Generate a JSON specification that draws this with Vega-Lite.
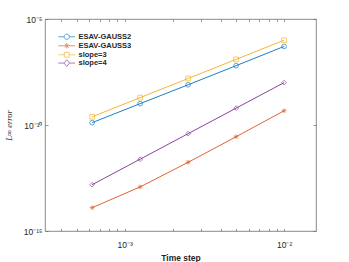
{
  "$schema": "https://vega.github.io/schema/vega-lite/v6.json",
  "width": 271,
  "height": 212,
  "autosize": {"type": "none"},
  "padding": {"left": 45, "top": 19, "right": 33, "bottom": 31},
  "background": "white",
  "config": {
    "view": {"stroke": "#6b6b6b", "strokeWidth": 0.8},
    "axis": {"domain": false, "grid": false, "labelFont": "Liberation Sans", "labelFontSize": 8.5, "labelColor": "#262626", "tickColor": "#6b6b6b", "tickWidth": 0.7},
    "legend": {"orient": "none", "legendX": 18, "legendY": 14, "title": null, "padding": 0,
      "labelFont": "Liberation Sans", "labelFontWeight": "bold", "labelFontSize": 7.5, "labelColor": "#262626",
      "symbolSize": 36, "symbolStrokeWidth": 0.9, "labelOffset": 8, "rowPadding": -1.7, "symbolFillColor": "transparent"}
  },
  "data": {"values": [
    {"series": "ESAV-GAUSS2", "x": 0.000625, "y": 1.29e-10},
    {"series": "ESAV-GAUSS2", "x": 0.00125, "y": 1.02e-9},
    {"series": "ESAV-GAUSS2", "x": 0.0025, "y": 7.9e-9},
    {"series": "ESAV-GAUSS2", "x": 0.005, "y": 6.3e-8},
    {"series": "ESAV-GAUSS2", "x": 0.01, "y": 5.1e-7},
    {"series": "ESAV-GAUSS3", "x": 0.000625, "y": 1.26e-14},
    {"series": "ESAV-GAUSS3", "x": 0.00125, "y": 1.2e-13},
    {"series": "ESAV-GAUSS3", "x": 0.0025, "y": 1.74e-12},
    {"series": "ESAV-GAUSS3", "x": 0.005, "y": 2.8e-11},
    {"series": "ESAV-GAUSS3", "x": 0.01, "y": 4.7e-10},
    {"series": "slope=3", "x": 0.000625, "y": 2.44e-10},
    {"series": "slope=3", "x": 0.00125, "y": 1.953e-9},
    {"series": "slope=3", "x": 0.0025, "y": 1.5625e-8},
    {"series": "slope=3", "x": 0.005, "y": 1.25e-7},
    {"series": "slope=3", "x": 0.01, "y": 1e-6},
    {"series": "slope=4", "x": 0.000625, "y": 1.53e-13},
    {"series": "slope=4", "x": 0.00125, "y": 2.44e-12},
    {"series": "slope=4", "x": 0.0025, "y": 3.9e-11},
    {"series": "slope=4", "x": 0.005, "y": 6.25e-10},
    {"series": "slope=4", "x": 0.01, "y": 1e-8}
  ]},
  "layer": [
    {
      "mark": {"type": "line", "strokeWidth": 0.9, "clip": true},
      "encoding": {
        "x": {"field": "x", "type": "quantitative",
          "scale": {"type": "log", "domain": [0.00031623, 0.015849], "nice": false},
          "axis": {"orient": "bottom", "values": [0.0004, 0.0005, 0.0006, 0.0007, 0.0008, 0.0009, 0.001, 0.002, 0.003, 0.004, 0.005, 0.006, 0.007, 0.008, 0.009, 0.01],
            "tickSize": -2.5, "labelPadding": 12,
            "labelExpr": "datum.value == 0.001 ? '10⁻³' : datum.value == 0.01 ? '10⁻²' : ''",
            "title": "Time step", "titleFont": "Liberation Sans", "titleFontWeight": "bold", "titleFontSize": 8.5, "titleColor": "#262626", "titlePadding": 4}},
        "y": {"field": "y", "type": "quantitative",
          "scale": {"type": "log", "domain": [1e-15, 1e-5], "nice": false},
          "axis": {"orient": "left", "values": [1e-15, 1e-10, 1e-5], "tickSize": -3, "labelPadding": 6,
            "labelExpr": "datum.value < 1e-14 ? '10⁻¹⁵' : datum.value < 1e-9 ? '10⁻¹⁰' : '10⁻⁵'",
            "title": "L∞ error", "titleFont": "Liberation Serif", "titleFontStyle": "italic", "titleFontWeight": "normal", "titleFontSize": 8.5, "titleColor": "#262626", "titlePadding": 10}},
        "color": {"field": "series", "type": "nominal",
          "scale": {"domain": ["ESAV-GAUSS2", "ESAV-GAUSS3", "slope=3", "slope=4"], "range": ["#0072BD", "#D95319", "#EDB120", "#7E2F8E"]},
          "legend": null}
      }
    },
    {
      "mark": {"type": "point", "filled": false, "strokeWidth": 0.9, "clip": true},
      "encoding": {
        "x": {"field": "x", "type": "quantitative",
          "axis": {"orient": "top", "values": [0.0004, 0.0005, 0.0006, 0.0007, 0.0008, 0.0009, 0.001, 0.002, 0.003, 0.004, 0.005, 0.006, 0.007, 0.008, 0.009, 0.01], "tickSize": -2.5, "labels": false, "title": null}},
        "y": {"field": "y", "type": "quantitative",
          "axis": {"orient": "right", "values": [1e-15, 1e-10, 1e-5], "tickSize": -3, "labels": false, "title": null}},
        "color": {"field": "series", "type": "nominal", "legend": null},
        "shape": {"field": "series", "type": "nominal",
          "scale": {"domain": ["ESAV-GAUSS2", "ESAV-GAUSS3", "slope=3", "slope=4"], "range": ["circle", "M-1,0L1,0M0,-1L0,1M-0.7,-0.7L0.7,0.7M-0.7,0.7L0.7,-0.7", "square", "diamond"]},
          "legend": null},
        "size": {"value": 22}
      }
    },
    {
      "transform": [{"filter": "false"}],
      "mark": {"type": "point", "filled": false, "strokeWidth": 0.9},
      "encoding": {
        "stroke": {"field": "series", "type": "nominal",
          "scale": {"domain": ["ESAV-GAUSS2", "ESAV-GAUSS3", "slope=3", "slope=4"], "range": ["#0072BD", "#D95319", "#EDB120", "#7E2F8E"]}},
        "shape": {"field": "series", "type": "nominal",
          "scale": {"domain": ["ESAV-GAUSS2", "ESAV-GAUSS3", "slope=3", "slope=4"], "range": [
            "M-2.8,0L-0.87,0M0.87,0L2.8,0M-0.87,0A0.87,0.87 0 1,0 0.87,0A0.87,0.87 0 1,0 -0.87,0",
            "M-2.8,0L2.8,0M0,-0.87L0,0.87M-0.62,-0.62L0.62,0.62M-0.62,0.62L0.62,-0.62",
            "M-2.8,0L-0.8,0M0.8,0L2.8,0M-0.8,-0.8L0.8,-0.8L0.8,0.8L-0.8,0.8Z",
            "M-2.8,0L-0.95,0M0.95,0L2.8,0M-0.95,0L0,-1.1L0.95,0L0,1.1Z"]}},
        "size": {"value": 36}
      }
    }
  ],
  "resolve": {"axis": {"x": "independent", "y": "independent"}, "scale": {"shape": "independent", "stroke": "independent"}}
}
